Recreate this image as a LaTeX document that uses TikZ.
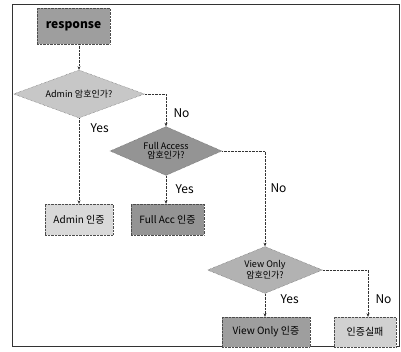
\documentclass[tikz,border=0pt]{standalone}
\usepackage{fontspec}
\setmainfont{Noto Sans CJK KR}
\usetikzlibrary{shapes.geometric,arrows.meta}
\begin{document}
\begin{tikzpicture}[x=1pt,y=-1pt,
  box/.style={draw=black!70,densely dotted,minimum height=30pt,inner sep=1pt,font=\fontsize{10}{11}\selectfont,text=black},
  dia/.style={diamond,draw=black!70,densely dotted,aspect=2.7,inner sep=0pt,align=center,font=\fontsize{9}{9.5}\selectfont,text=black},
  conn/.style={densely dotted,black!80,-{Stealth[length=3.5pt,width=3pt]}},
  lbl/.style={font=\fontsize{12}{13}\selectfont}]
\useasboundingbox (0,0) rectangle (401,351);
\draw[black!80,line width=0.8pt] (12,4) rectangle (399,346);
\node[box,fill=black!38,minimum width=73pt,minimum height=36pt,font=\fontsize{12}{13}\selectfont\bfseries] (resp) at (73.5,26) {response};
\node[dia,fill=black!22,minimum width=131pt,minimum height=48pt] (d1) at (79,94) {Admin 암호인가?};
\node[dia,fill=black!42,minimum width=112pt,minimum height=49pt] (d2) at (166,151) {Full Access\\암호인가?};
\node[dia,fill=black!30,minimum width=115pt,minimum height=47pt] (d3) at (265,270) {View Only\\암호인가?};
\node[box,fill=black!15,minimum width=68pt,minimum height=31pt] (b1) at (79,219.5) {Admin 인증};
\node[box,fill=black!42,minimum width=73pt,minimum height=31pt] (b2) at (167.5,219.5) {Full Acc 인증};
\node[box,fill=black!38,minimum width=88pt,minimum height=30pt] (b3) at (266,332) {View Only 인증};
\node[box,fill=black!18,minimum width=62pt,minimum height=30pt] (b4) at (365,332) {인증실패};
\draw[conn] (resp.south -| d1.north) -- (d1.north);
\draw[conn] (d1.south) -- (b1.north);
\draw[conn] (d1.east) -| (d2.north);
\draw[conn] (d2.south) -- (b2.north -| d2.south);
\draw[conn] (d2.east) -| (d3.north);
\draw[conn] (d3.south) -- (b3.north -| d3.south);
\draw[conn] (d3.east) -| (b4.north -| 368,0);
\node[lbl,anchor=west] (l1) at (87,128) {Yes};
\node[lbl,anchor=west] (l2) at (170,113) {No};
\node[lbl,anchor=west] (l3) at (172,189) {Yes};
\node[lbl,anchor=west] (l4) at (267,188) {No};
\node[lbl,anchor=west] (l5) at (277,299) {Yes};
\node[lbl,anchor=west] (l6) at (372,299) {No};
\end{tikzpicture}
\end{document}
